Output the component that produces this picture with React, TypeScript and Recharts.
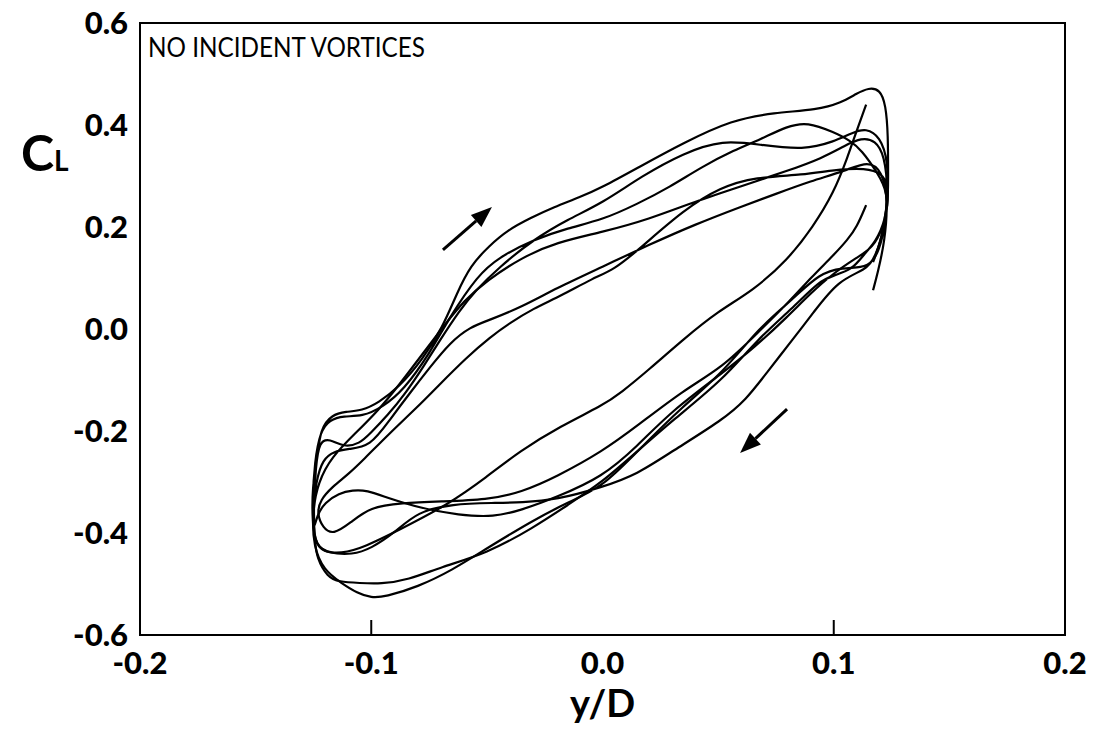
import React from 'react';
import { ComposedChart, Line, XAxis, YAxis, ReferenceArea, ReferenceLine } from 'recharts';

type Pt = [number, number];

const xTicks = [-0.2, -0.1, 0.0, 0.1, 0.2];
const yTicks = [-0.6, -0.4, -0.2, 0.0, 0.2, 0.4, 0.6];
const xTickMarks = [-0.1, 0.1];
const title = 'NO INCIDENT VORTICES';

// first record: starts at the top right, runs down the inner lower branch
const lowerS: Pt[] = [[0.114, 0.44], [0.11, 0.39], [0.106, 0.337], [0.1, 0.267], [0.091, 0.2], [0.08, 0.135], [0.065, 0.075], [0.05, 0.035], [0.035, -0.02], [0.02, -0.08], [0.008, -0.125], [0.0, -0.15], [-0.018, -0.19], [-0.036, -0.24], [-0.05, -0.29], [-0.067, -0.345], [-0.088, -0.394], [-0.106, -0.435], [-0.118, -0.442], [-0.124, -0.425]];
const upper1: Pt[] = [[-0.1255, -0.38], [-0.1255, -0.31], [-0.1235, -0.257], [-0.122, -0.195], [-0.117, -0.168], [-0.111, -0.162], [-0.104, -0.16], [-0.097, -0.145], [-0.088, -0.114], [-0.078, -0.061], [-0.069, 0.004], [-0.063, 0.07], [-0.057, 0.125], [-0.049, 0.163], [-0.041, 0.194], [-0.031, 0.218], [-0.021, 0.239], [-0.01, 0.258], [0.0, 0.278], [0.016, 0.318], [0.035, 0.365], [0.056, 0.41], [0.074, 0.424], [0.093, 0.43], [0.103, 0.443], [0.11, 0.462], [0.115, 0.473], [0.12, 0.47], [0.1225, 0.44], [0.1235, 0.38], [0.1235, 0.3], [0.1235, 0.24]];
const lowerA: Pt[] = [[0.121, 0.195], [0.117, 0.16], [0.11, 0.14], [0.1, 0.11], [0.09, 0.07], [0.08, 0.024], [0.066, -0.035], [0.052, -0.086], [0.03, -0.16], [0.015, -0.23], [0.0, -0.29], [-0.02, -0.33], [-0.035, -0.355], [-0.047, -0.369], [-0.062, -0.365], [-0.079, -0.351], [-0.093, -0.331], [-0.102, -0.316], [-0.108, -0.316], [-0.114, -0.322], [-0.12, -0.34], [-0.1235, -0.365], [-0.125, -0.4]];
const upper2: Pt[] = [[-0.1255, -0.34], [-0.1245, -0.26], [-0.122, -0.2], [-0.118, -0.178], [-0.112, -0.17], [-0.104, -0.172], [-0.095, -0.153], [-0.086, -0.12], [-0.0746, -0.047], [-0.066, 0.024], [-0.054, 0.105], [-0.045, 0.14], [-0.03, 0.175], [-0.015, 0.198], [0.0, 0.214], [0.015, 0.245], [0.029, 0.278], [0.043, 0.318], [0.057, 0.351], [0.068, 0.371], [0.08, 0.398], [0.0886, 0.406], [0.1, 0.386], [0.107, 0.37], [0.112, 0.351], [0.119, 0.306], [0.1235, 0.267], [0.1225, 0.214]];
const lowerB: Pt[] = [[0.118, 0.17], [0.1135, 0.149], [0.108, 0.116], [0.1, 0.105], [0.094, 0.095], [0.082, 0.04], [0.067, -0.02], [0.052, -0.1], [0.03, -0.18], [0.015, -0.24], [0.0, -0.3], [-0.015, -0.345], [-0.03, -0.39], [-0.05, -0.44], [-0.07, -0.467], [-0.084, -0.492], [-0.096, -0.5], [-0.105, -0.498], [-0.114, -0.496], [-0.119, -0.486], [-0.1235, -0.45], [-0.1245, -0.414]];
const upper3: Pt[] = [[-0.125, -0.35], [-0.124, -0.27], [-0.1225, -0.22], [-0.118, -0.215], [-0.112, -0.232], [-0.105, -0.225], [-0.1005, -0.205], [-0.093, -0.17], [-0.085, -0.125], [-0.0776, -0.075], [-0.07, -0.02], [-0.062, 0.035], [-0.055, 0.075], [-0.045, 0.12], [-0.03, 0.175], [-0.015, 0.215], [0.0, 0.247], [0.017, 0.3], [0.035, 0.345], [0.052, 0.371], [0.0684, 0.361], [0.087, 0.351], [0.1, 0.367], [0.108, 0.385], [0.114, 0.394], [0.12, 0.377], [0.1235, 0.331], [0.1235, 0.25], [0.121, 0.18], [0.117, 0.131]];

// second record
const lowerT: Pt[] = [[0.114, 0.243], [0.11, 0.2], [0.106, 0.175], [0.1, 0.145], [0.09, 0.1], [0.0815, 0.057], [0.067, -0.008], [0.052, -0.075], [0.035, -0.12], [0.015, -0.19], [0.0, -0.24], [-0.02, -0.29], [-0.035, -0.32], [-0.05, -0.335], [-0.07, -0.338], [-0.087, -0.341], [-0.1005, -0.349], [-0.109, -0.38], [-0.1165, -0.404], [-0.121, -0.39], [-0.1235, -0.361]];
const upper4: Pt[] = [[-0.122, -0.335], [-0.117, -0.31], [-0.11, -0.285], [-0.1035, -0.257], [-0.092, -0.204], [-0.08, -0.153], [-0.0716, -0.114], [-0.0586, -0.055], [-0.0486, -0.016], [-0.04, 0.012], [-0.03, 0.04], [-0.018, 0.065], [-0.004, 0.1], [0.005, 0.116], [0.017, 0.161], [0.035, 0.233], [0.051, 0.278], [0.066, 0.298], [0.087, 0.302], [0.1, 0.312], [0.114, 0.316], [0.121, 0.305], [0.1235, 0.28], [0.1235, 0.25]];
const lowerC: Pt[] = [[0.121, 0.17], [0.117, 0.13], [0.112, 0.12], [0.104, 0.12], [0.094, 0.11], [0.082, 0.057], [0.068, 0.004], [0.052, -0.086], [0.035, -0.15], [0.015, -0.24], [0.0, -0.31], [-0.015, -0.34], [-0.03, -0.375], [-0.05, -0.43], [-0.065, -0.473], [-0.08, -0.506], [-0.094, -0.525], [-0.1, -0.527], [-0.106, -0.518], [-0.113, -0.498], [-0.1205, -0.473], [-0.125, -0.427]];
const upper5: Pt[] = [[-0.1255, -0.36], [-0.123, -0.3], [-0.117, -0.25], [-0.107, -0.205], [-0.097, -0.16], [-0.088, -0.11], [-0.078, -0.05], [-0.068, 0.01], [-0.06, 0.055], [-0.05, 0.095], [-0.035, 0.14], [-0.02, 0.17], [0.0, 0.19], [0.02, 0.215], [0.04, 0.25], [0.06, 0.28], [0.08, 0.31], [0.095, 0.335], [0.105, 0.36], [0.112, 0.375], [0.118, 0.37], [0.122, 0.34], [0.1235, 0.27], [0.122, 0.2]];
const lowerD: Pt[] = [[0.118, 0.14], [0.114, 0.116], [0.102, 0.096], [0.091, 0.031], [0.082, -0.022], [0.071, -0.086], [0.062, -0.139], [0.052, -0.178], [0.03, -0.24], [0.015, -0.285], [0.0, -0.31], [-0.02, -0.335], [-0.035, -0.34], [-0.047, -0.341], [-0.065, -0.343], [-0.08, -0.358], [-0.09, -0.4], [-0.1, -0.43], [-0.108, -0.443], [-0.119, -0.439], [-0.124, -0.427]];
const upper6: Pt[] = [[-0.1255, -0.37], [-0.124, -0.3], [-0.121, -0.255], [-0.116, -0.24], [-0.11, -0.235], [-0.1005, -0.231], [-0.092, -0.178], [-0.0832, -0.125], [-0.0746, -0.075], [-0.066, -0.027], [-0.0573, 0.004], [-0.0486, 0.018], [-0.035, 0.043], [-0.02, 0.08], [0.0, 0.122], [0.02, 0.165], [0.04, 0.205], [0.06, 0.24], [0.075, 0.265], [0.09, 0.29], [0.105, 0.31], [0.115, 0.33], [0.121, 0.31], [0.1235, 0.25], [0.122, 0.17], [0.119, 0.11], [0.117, 0.076]];

// direction arrows (tail, head)
const arrowUp: Pt[] = [[-0.069, 0.155], [-0.0478, 0.239]];
const arrowDown: Pt[] = [[0.0798, -0.157], [0.0595, -0.243]];

const toPts = (a: Pt[]) => a.map(([x, y]) => ({ x, y }));
const record1 = toPts([...lowerS, ...upper1, ...lowerA, ...upper2, ...lowerB, ...upper3]);
const record2 = toPts([...lowerT, ...upper4, ...lowerC, ...upper5, ...lowerD, ...upper6]);

const FONT = 'Lato, "DejaVu Sans", sans-serif';

const YTick = (props: any) => {
  const { x, y, payload } = props;
  return (
    <text x={x - 12} y={y + 11} textAnchor="end" fontFamily={FONT} fontWeight={900} fontSize={31} fill="#000">
      {payload.value.toFixed(1)}
    </text>
  );
};

const XTick = (props: any) => {
  const { x, y, payload } = props;
  const marked = xTickMarks.some((t) => Math.abs(t - payload.value) < 1e-9);
  return (
    <g>
      {marked && <line x1={x} y1={y} x2={x} y2={y - 15} stroke="#000" strokeWidth={2} />}
      <text x={x} y={y + 39} textAnchor="middle" fontFamily={FONT} fontWeight={900} fontSize={31} fill="#000">
        {payload.value.toFixed(1)}
      </text>
    </g>
  );
};

const Arrow = (props: any) => {
  const { x1, y1, x2, y2 } = props;
  const ang = Math.atan2(y2 - y1, x2 - x1);
  const len = 21;
  const half = 8;
  const bx = x2 - len * Math.cos(ang);
  const by = y2 - len * Math.sin(ang);
  const px = -Math.sin(ang) * half;
  const py = Math.cos(ang) * half;
  return (
    <g>
      <line x1={x1} y1={y1} x2={bx} y2={by} stroke="#000" strokeWidth={3} />
      <polygon points={`${x2},${y2} ${bx + px},${by + py} ${bx - px},${by - py}`} fill="#000" />
    </g>
  );
};

export default function App() {
  return (
    <div style={{ position: 'absolute', left: 0, top: 0, width: 1095, height: 730, background: '#fff' }}>
      <ComposedChart width={1095} height={730} margin={{ top: 23, right: 30, bottom: 0, left: 0 }}>
        <XAxis
          type="number"
          dataKey="x"
          domain={[-0.2, 0.2]}
          ticks={xTicks}
          interval={0}
          height={95}
          tickSize={0}
          tickMargin={0}
          tickLine={false}
          axisLine={{ stroke: '#000', strokeWidth: 2 }}
          tick={<XTick />}
          label={{
            content: (p: any) => {
              const vb = p.viewBox;
              return (
                <text x={vb.x + vb.width / 2} y={vb.y + 82} textAnchor="middle" fontFamily={FONT} fontWeight={700} fontSize={38} fill="#000">
                  y/D
                </text>
              );
            },
          }}
        />
        <YAxis
          type="number"
          dataKey="y"
          domain={[-0.6, 0.6]}
          ticks={yTicks}
          interval={0}
          width={140}
          tickSize={0}
          tickMargin={0}
          tickLine={false}
          axisLine={{ stroke: '#000', strokeWidth: 2 }}
          tick={<YTick />}
          label={{
            content: () => (
              <text x={21} y={171} fontFamily={FONT} fill="#000">
                <tspan fontSize={50} fontWeight={700}>C</tspan>
                <tspan fontSize={28} fontWeight={700}>L</tspan>
              </text>
            ),
          }}
        />
        <ReferenceArea
          x1={-0.2}
          x2={0.2}
          y1={-0.6}
          y2={0.6}
          fill="none"
          fillOpacity={0}
          stroke="#000"
          strokeWidth={2}
          label={{
            content: (p: any) => {
              const vb = p.viewBox;
              return (
                <text x={vb.x + 8} y={vb.y + 34} fontFamily={FONT} fontSize={26} fill="#000" textLength={277} lengthAdjust="spacingAndGlyphs">
                  {title}
                </text>
              );
            },
          }}
        />
        <Line data={record1} dataKey="y" type="basis" stroke="#000" strokeWidth={2.2} dot={false} activeDot={false} isAnimationActive={false} />
        <Line data={record2} dataKey="y" type="basis" stroke="#000" strokeWidth={2.2} dot={false} activeDot={false} isAnimationActive={false} />
        <ReferenceLine segment={toPts(arrowUp)} shape={<Arrow />} />
        <ReferenceLine segment={toPts(arrowDown)} shape={<Arrow />} />
      </ComposedChart>
    </div>
  );
}
